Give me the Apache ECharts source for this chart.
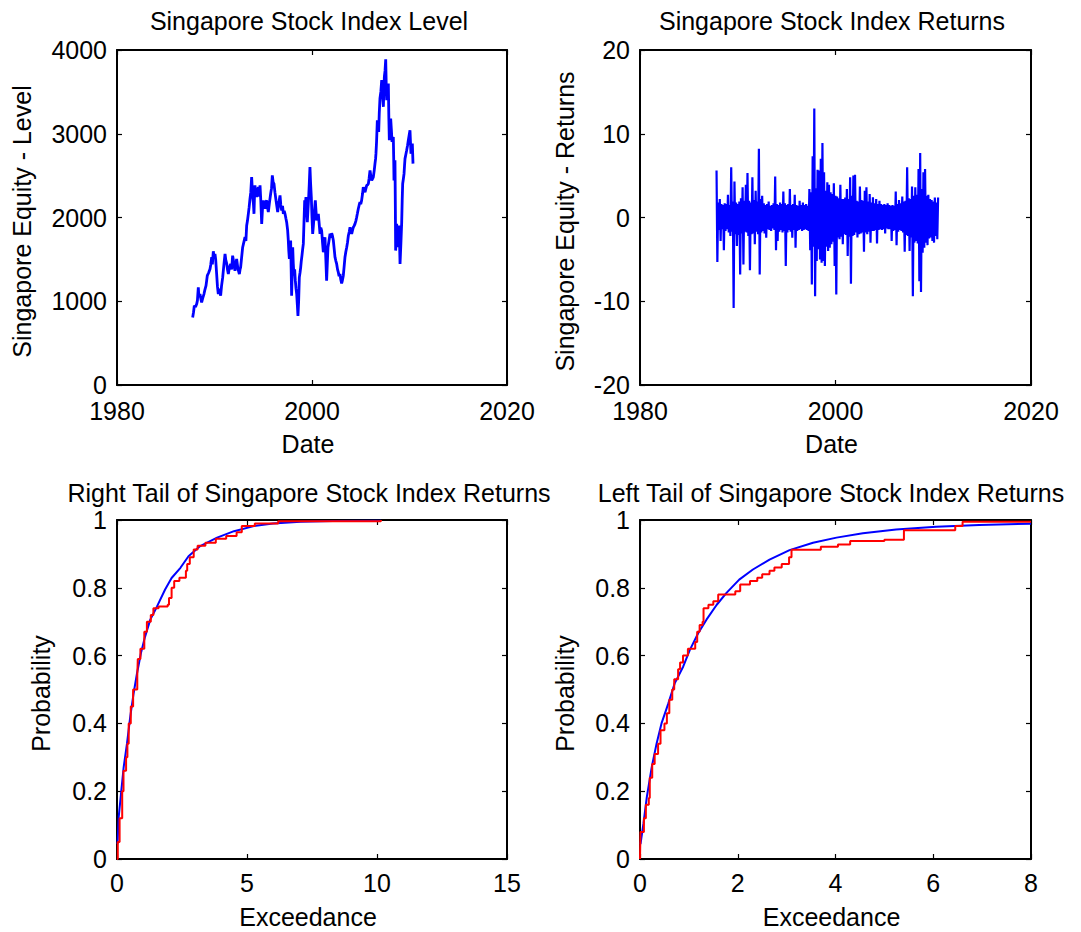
<!DOCTYPE html>
<html>
<head>
<meta charset="utf-8">
<title>Singapore Stock Index</title>
<script src="https://cdn.jsdelivr.net/npm/echarts@6.0.0/dist/echarts.min.js"></script>
<style>
  html, body { margin: 0; padding: 0; background: #fff; }
  #chart { width: 1081px; height: 932px; }
</style>
</head>
<body>
<div id="chart"></div>
<script>
// Index level: [year, level]
const levelHistory = [
  [1987.76, 806], [1987.85, 870], [1987.93, 946], [1988.05, 930], [1988.17, 966], [1988.25, 1010],
  [1988.34, 1166], [1988.40, 1050], [1988.51, 1086], [1988.60, 1030], [1988.68, 986], [1988.80, 1040],
  [1988.92, 1086], [1989.02, 1140], [1989.13, 1186], [1989.20, 1250], [1989.26, 1305], [1989.40, 1340],
  [1989.54, 1385], [1989.62, 1440], [1989.71, 1525], [1989.78, 1440], [1989.88, 1597], [1989.96, 1520],
  [1990.05, 1565], [1990.12, 1500], [1990.22, 1325], [1990.30, 1180], [1990.39, 1086], [1990.50, 1150],
  [1990.63, 1066], [1990.72, 1180], [1990.84, 1285], [1990.95, 1420], [1991.08, 1565], [1991.16, 1490],
  [1991.25, 1453], [1991.33, 1380], [1991.42, 1325], [1991.52, 1400], [1991.66, 1445], [1991.76, 1380],
  [1991.86, 1545], [1991.98, 1460], [1992.10, 1365], [1992.18, 1430], [1992.27, 1505], [1992.40, 1390],
  [1992.55, 1325], [1992.62, 1380], [1992.68, 1405], [1992.78, 1520], [1992.89, 1645], [1993.00, 1700],
  [1993.13, 1765], [1993.22, 1720], [1993.30, 1904], [1993.38, 1960], [1993.47, 2044], [1993.55, 2120],
  [1993.64, 2224], [1993.72, 2300], [1993.81, 2483], [1993.90, 2280], [1994.00, 2150], [1994.05, 2044],
  [1994.10, 2250], [1994.15, 2383], [1994.22, 2300], [1994.32, 2244], [1994.40, 2320], [1994.50, 2363],
  [1994.58, 2250], [1994.67, 2383], [1994.75, 2200], [1994.84, 1924], [1994.92, 2100], [1995.01, 2204],
  [1995.10, 2150], [1995.18, 2104], [1995.26, 2180], [1995.35, 2204], [1995.44, 2120], [1995.52, 2064],
  [1995.64, 2180], [1995.76, 2284], [1995.85, 2350], [1995.93, 2503], [1996.02, 2420], [1996.10, 2403],
  [1996.20, 2300], [1996.31, 2204], [1996.40, 2130], [1996.48, 2064], [1996.60, 2180], [1996.72, 2264],
  [1996.80, 2150], [1996.89, 2084], [1996.98, 2140], [1997.06, 2044], [1997.15, 2080], [1997.23, 2044],
  [1997.32, 1990], [1997.40, 1944], [1997.50, 1850], [1997.57, 1725], [1997.62, 1600], [1997.68, 1505],
  [1997.75, 1650], [1997.81, 1725], [1997.86, 1400], [1997.91, 1066], [1997.96, 1300], [1998.02, 1645],
  [1998.08, 1450], [1998.15, 1305], [1998.22, 1380], [1998.29, 1246], [1998.36, 1150], [1998.43, 1086],
  [1998.50, 950], [1998.56, 826], [1998.63, 1000], [1998.70, 1285], [1998.77, 1340], [1998.84, 1405],
  [1998.90, 1480], [1998.97, 1545], [1999.04, 1620], [1999.11, 1685], [1999.18, 1950], [1999.25, 2204],
  [1999.32, 2150], [1999.38, 2244], [1999.45, 2080], [1999.52, 1944], [1999.59, 2100], [1999.66, 2244],
  [1999.72, 2400], [1999.79, 2603], [1999.86, 2400], [1999.93, 2244], [2000.00, 2000], [2000.07, 1805],
  [2000.14, 1900], [2000.21, 2004], [2000.28, 2120], [2000.34, 2204], [2000.41, 2080], [2000.48, 1964],
  [2000.56, 2010], [2000.65, 2044], [2000.74, 1920], [2000.82, 1805], [2000.90, 1880], [2000.99, 1844],
  [2001.08, 1700], [2001.16, 1585], [2001.25, 1700], [2001.33, 1765], [2001.42, 1500], [2001.50, 1246],
  [2001.57, 1450], [2001.64, 1645], [2001.74, 1720], [2001.85, 1805], [2001.93, 1760], [2002.02, 1813],
  [2002.10, 1780], [2002.19, 1725], [2002.28, 1620], [2002.36, 1525], [2002.45, 1480], [2002.53, 1445],
  [2002.62, 1380], [2002.70, 1345], [2002.78, 1300], [2002.87, 1325], [2002.95, 1260], [2003.04, 1214],
  [2003.12, 1250], [2003.21, 1305], [2003.30, 1420], [2003.38, 1525], [2003.47, 1590], [2003.56, 1645],
  [2003.64, 1700], [2003.73, 1785], [2003.82, 1830], [2003.90, 1884], [2003.98, 1840], [2004.07, 1805],
  [2004.16, 1850], [2004.24, 1884], [2004.32, 1900], [2004.41, 1924], [2004.50, 1960], [2004.58, 2004],
  [2004.66, 2050], [2004.75, 2104], [2004.84, 2150], [2004.92, 2184], [2005.00, 2160], [2005.09, 2204],
  [2005.18, 2280], [2005.26, 2363], [2005.35, 2330], [2005.44, 2303], [2005.52, 2340], [2005.61, 2383],
  [2005.70, 2390], [2005.78, 2403], [2005.86, 2470], [2005.95, 2563], [2006.03, 2500], [2006.12, 2443],
  [2006.20, 2460], [2006.29, 2483], [2006.38, 2560], [2006.46, 2643], [2006.52, 2700], [2006.56, 2762],
  [2006.62, 2900], [2006.70, 3162], [2006.76, 3100], [2006.84, 3022], [2006.90, 3250], [2006.97, 3421],
  [2007.06, 3500], [2007.15, 3641], [2007.24, 3450], [2007.32, 3322], [2007.37, 3500], [2007.42, 3681],
  [2007.49, 3750], [2007.56, 3888], [2007.61, 3600], [2007.66, 3401], [2007.75, 3500], [2007.83, 3601],
  [2007.88, 3200], [2007.93, 2922], [2008.00, 3050], [2008.07, 3182], [2008.14, 3050], [2008.21, 2902],
  [2008.28, 2940], [2008.34, 2962], [2008.38, 2700], [2008.41, 2443], [2008.46, 2550], [2008.51, 2683],
  [2008.55, 2100], [2008.58, 1605], [2008.63, 1750], [2008.68, 1924], [2008.74, 1780], [2008.79, 1645],
  [2008.86, 1780], [2008.92, 1904], [2008.98, 1700], [2009.03, 1445], [2009.12, 1700], [2009.20, 1944],
  [2009.25, 2200], [2009.30, 2403], [2009.37, 2460], [2009.44, 2523], [2009.49, 2620], [2009.54, 2703],
  [2009.62, 2750], [2009.71, 2802], [2009.80, 2860], [2009.88, 2922], [2009.96, 2980], [2010.05, 3042],
  [2010.10, 2900], [2010.15, 2762], [2010.22, 2820], [2010.29, 2882], [2010.36, 2643]
];

// Returns (%), sampled 12 times a year from the first date onward
const returnsStart = 1987.83;
const returnsPerYear = 12;
const returnSamples = [
  5.6, -5.3, 1.8, -1.5, 2.2, -2.8, 1.6, -1.4, 1.5, -3.9, 1.7, -1.6,
  1.6, -1.4, 2.7, -1.8, 1.5, -2.2, 6.0, -1.7, 1.9, -10.8, 4.3, -2.0,
  1.8, -3.4, 1.6, -2.1, 1.9, -6.8, 2.3, -1.9, 3.6, -5.6, 2.0, -1.7,
  3.9, -1.8, 5.3, -2.2, 2.0, -6.3, 1.8, -2.0, 4.8, -1.9, 2.1, -3.2,
  3.2, -1.7, 1.9, -2.0, 8.2, -6.8, 2.2, -1.8, 2.6, -1.6, 1.7, -1.9,
  1.5, -2.4, 1.6, -1.4, 1.9, -1.5, 1.4, -1.6, 1.5, -1.3, 1.7, -1.5,
  4.9, -3.9, 1.6, -2.8, 1.5, -1.7, 1.8, -1.5, 1.6, -1.8, 3.1, -1.6,
  1.7, -5.8, 1.5, -1.8, 1.6, -1.5, 3.4, -1.7, 1.5, -2.4, 1.6, -1.5,
  2.7, -3.6, 1.5, -1.6, 1.4, -1.5, 2.0, -1.4, 1.5, -1.6, 1.8, -1.5,
  1.5, -1.4, 1.6, -1.5, 1.4, -1.6, 3.4, -3.9, 3.0, -8.0, 7.3, -3.5,
  13.0, -9.4, 3.5, -5.2, 5.7, -3.8, 5.6, -5.0, 7.0, -5.4, 8.9, -5.2,
  5.4, -5.8, 3.2, -3.5, 4.2, -4.0, 3.9, -3.6, 3.0, -3.2, 2.8, -2.9,
  4.1, -5.8, 2.6, -9.2, 2.5, -2.4, 2.3, -2.6, 3.9, -2.3, 2.2, -3.2,
  2.2, -2.0, 2.4, -2.1, 3.4, -4.6, 2.2, -2.3, 4.8, -7.9, 2.6, -2.2,
  5.0, -2.1, 5.1, -1.8, 2.0, -2.4, 1.9, -2.0, 3.7, -1.9, 2.1, -1.8,
  2.0, -4.1, 3.2, -1.8, 3.6, -2.0, 1.9, -1.7, 2.8, -3.0, 1.8, -1.6,
  2.4, -1.6, 1.7, -1.5, 2.2, -3.1, 1.6, -1.5, 2.0, -1.4, 1.6, -1.5,
  1.5, -1.4, 1.6, -1.9, 1.5, -1.3, 1.7, -1.4, 1.5, -1.4, 1.4, -2.8,
  1.5, -1.6, 1.4, -1.5, 3.1, -3.3, 1.6, -1.7, 2.1, -1.5, 1.7, -1.6,
  2.5, -1.8, 1.9, -4.1, 2.0, -2.1, 6.0, -2.2, 2.3, -4.0, 2.2, -2.4,
  3.7, -9.4, 2.6, -3.0, 3.6, -2.8, 2.7, -3.1, 5.8, -7.6, 7.7, -8.9,
  3.4, -4.2, 5.4, -3.6, 5.8, -3.0, 2.6, -3.3, 2.7, -2.5, 2.2, -2.4,
  2.1, -2.8, 1.9, -3.0, 2.4, -2.2, 1.8, -2.6, 2.4
];

// Tail distributions: [exceedance, probability]
const rightTailFit = [
  [0.02, 0.044], [0.064, 0.123], [0.154, 0.192], [0.257, 0.271], [0.385, 0.341], [0.51, 0.42],
  [0.64, 0.489], [0.77, 0.548], [0.92, 0.607], [1.08, 0.656], [1.28, 0.706], [1.54, 0.745],
  [1.85, 0.795], [2.1, 0.829], [2.44, 0.859], [2.75, 0.893], [3.2, 0.923], [3.85, 0.948],
  [4.5, 0.967], [5.26, 0.982], [6.0, 0.99], [7.06, 0.995], [8.3, 0.997], [10.15, 0.998]
];
const rightTailEmpirical = [
  [0, 0], [0.03, 0.05], [0.1, 0.12], [0.2, 0.2], [0.25, 0.26], [0.35, 0.3], [0.4, 0.34],
  [0.45, 0.4], [0.53, 0.45], [0.62, 0.5], [0.78, 0.54], [0.8, 0.59], [0.9, 0.62], [1.05, 0.67],
  [1.15, 0.7], [1.3, 0.72], [1.4, 0.74], [1.6, 0.745], [1.95, 0.75], [2.0, 0.77], [2.1, 0.8],
  [2.2, 0.82], [2.4, 0.83], [2.65, 0.85], [2.7, 0.87], [2.8, 0.89], [2.95, 0.913], [3.1, 0.924],
  [3.4, 0.933], [3.8, 0.945], [4.2, 0.953], [4.6, 0.964], [4.8, 0.982], [5.3, 0.99],
  [6.2, 0.996], [10.15, 1.0]
];
const leftTailFit = [
  [0.01, 0.044], [0.07, 0.104], [0.14, 0.183], [0.24, 0.271], [0.34, 0.341], [0.44, 0.4],
  [0.58, 0.459], [0.71, 0.518], [0.885, 0.568], [1.02, 0.617], [1.19, 0.666], [1.36, 0.706],
  [1.57, 0.75], [1.77, 0.785], [2.03, 0.824], [2.31, 0.854], [2.65, 0.883], [3.06, 0.911],
  [3.54, 0.933], [4.02, 0.948], [4.56, 0.961], [5.24, 0.972], [6.06, 0.98], [6.94, 0.985],
  [8.0, 0.989]
];
const leftTailEmpirical = [
  [0, 0], [0.01, 0.08], [0.08, 0.12], [0.12, 0.16], [0.18, 0.18], [0.2, 0.24], [0.25, 0.28],
  [0.3, 0.31], [0.37, 0.34], [0.42, 0.38], [0.5, 0.4], [0.55, 0.43], [0.6, 0.47], [0.66, 0.5],
  [0.7, 0.53], [0.78, 0.56], [0.82, 0.58], [0.88, 0.6], [0.98, 0.62], [1.13, 0.64], [1.17, 0.67],
  [1.22, 0.69], [1.28, 0.7], [1.3, 0.74], [1.4, 0.75], [1.5, 0.76], [1.6, 0.78], [1.95, 0.79],
  [2.05, 0.81], [2.25, 0.82], [2.4, 0.83], [2.5, 0.84], [2.65, 0.85], [2.75, 0.86], [2.9, 0.87],
  [3.05, 0.89], [3.1, 0.912], [3.7, 0.921], [4.05, 0.928], [4.3, 0.938], [5.0, 0.942],
  [5.4, 0.97], [6.45, 0.982], [6.6, 0.995], [8.0, 0.997]
];

// Panel text
const panelTitles = [
  'Singapore Stock Index Level',
  'Singapore Stock Index Returns',
  'Right Tail of Singapore Stock Index Returns',
  'Left Tail of Singapore Stock Index Returns'
];
const xNames = ['Date', 'Date', 'Exceedance', 'Exceedance'];
const yNames = ['Singapore Equity - Level', 'Singapore Equity - Returns', 'Probability', 'Probability'];
// Axis ranges: [min, max, interval]
const xRanges = [[1980, 2020, 20], [1980, 2020, 20], [0, 15, 5], [0, 8, 2]];
const yRanges = [[0, 4000, 1000], [-20, 20, 10], [0, 1, 0.2], [0, 1, 0.2]];

const FONT = "'Liberation Sans', Arial, Helvetica, sans-serif";
const FS = 25;
const LH = 18;
const BLUE = '#0000ff';
const RED = '#ff0000';

const grids = [
  { left: 117, top: 50, width: 390, height: 335 },
  { left: 640, top: 50, width: 391, height: 335 },
  { left: 117, top: 520, width: 390, height: 339 },
  { left: 640, top: 520, width: 391, height: 339 }
].map(g => Object.assign({ outerBoundsMode: 'none', containLabel: false }, g));

const titlePos = [[309, 21], [832, 21], [309, 493], [831, 493]];
const xNameGap = [46, 46, 45, 45];
const yNameGap = [83, 63, 64, 63];
const xLabelMargin = [17, 17, 15, 15];

const fmt = v => String(Math.round(v * 1e6) / 1e6);

function frameAxis(gridIndex, position, range, primary, name, nameGap, margin) {
  return {
    type: 'value',
    gridIndex,
    position,
    min: range[0], max: range[1], interval: range[2],
    axisLine: { show: true, onZero: false, lineStyle: { color: '#000', width: 2 } },
    axisTick: { show: true, inside: true, length: 5, lineStyle: { color: '#000', width: 1.2 } },
    splitLine: { show: false },
    axisLabel: {
      show: primary, color: '#000', fontSize: FS, fontFamily: FONT, lineHeight: LH,
      margin, formatter: fmt
    },
    name: primary ? name : '',
    nameLocation: 'middle',
    nameGap,
    nameTextStyle: { color: '#000', fontSize: FS, fontFamily: FONT, padding: [0, 8, 0, 0] }
  };
}

const xAxes = [], yAxes = [];
for (let g = 0; g < 4; g++) {
  xAxes.push(frameAxis(g, 'bottom', xRanges[g], true, xNames[g], xNameGap[g], xLabelMargin[g]));
  xAxes.push(frameAxis(g, 'top', xRanges[g], false, '', 0, 8));
  yAxes.push(frameAxis(g, 'left', yRanges[g], true, yNames[g], yNameGap[g], 10));
  yAxes.push(frameAxis(g, 'right', yRanges[g], false, '', 0, 8));
}

function lineSeries(g, data, color, width, step) {
  return {
    type: 'line',
    xAxisIndex: 2 * g,
    yAxisIndex: 2 * g,
    data,
    step: step || false,
    showSymbol: false,
    symbol: 'none',
    lineStyle: { color, width },
    itemStyle: { color },
    silent: true,
    z: 2
  };
}

const returnSeries = returnSamples.map((v, i) => [returnsStart + i / returnsPerYear, v]);

const option = {
  animation: false,
  backgroundColor: '#ffffff',
  textStyle: { fontFamily: FONT, color: '#000' },
  grid: grids,
  xAxis: xAxes,
  yAxis: yAxes,
  series: [
    lineSeries(0, levelHistory, BLUE, 2.8),
    lineSeries(1, returnSeries, BLUE, 2.2),
    lineSeries(2, rightTailFit, BLUE, 2),
    lineSeries(2, rightTailEmpirical, RED, 2, 'end'),
    lineSeries(3, leftTailFit, BLUE, 2),
    lineSeries(3, leftTailEmpirical, RED, 2, 'end')
  ],
  graphic: panelTitles.map((t, i) => ({
    type: 'text',
    x: titlePos[i][0],
    y: titlePos[i][1],
    silent: true,
    style: {
      text: t,
      fill: '#000',
      fontSize: FS,
      fontFamily: FONT,
      align: 'center',
      verticalAlign: 'middle',
      textAlign: 'center',
      textVerticalAlign: 'middle'
    }
  }))
};

const chart = echarts.init(document.getElementById('chart'), null, { renderer: 'svg' });
chart.setOption(option);
</script>
</body>
</html>
